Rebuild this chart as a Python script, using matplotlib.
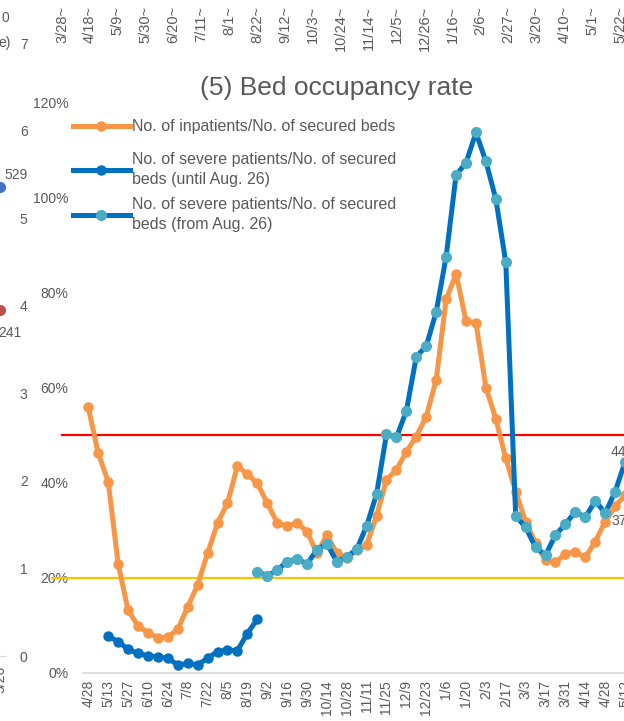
import matplotlib
matplotlib.use('Agg')
import matplotlib.pyplot as plt
import numpy as np
from matplotlib.lines import Line2D
from matplotlib.ticker import PercentFormatter

plt.rcParams['font.family'] = ['Liberation Sans', 'DejaVu Sans']

W, H = 624, 721

# weekly dates of the bed occupancy chart
weeks = ['4/28', '5/6', '5/13', '5/20', '5/27', '6/3', '6/10', '6/17', '6/24', '7/1',
         '7/8', '7/15', '7/22', '7/29', '8/5', '8/12', '8/19', '8/26', '9/2', '9/9',
         '9/16', '9/23', '9/30', '10/7', '10/14', '10/21', '10/28', '11/4', '11/11', '11/18',
         '11/25', '12/2', '12/9', '12/16', '12/23', '12/30', '1/6', '1/13', '1/20', '1/27',
         '2/3', '2/10', '2/17', '2/24', '3/3', '3/10', '3/17', '3/24', '3/31', '4/7',
         '4/14', '4/21', '4/28', '5/5', '5/12']

# (%) inpatients / secured beds
inpatient_rate = [55.8, 46.2, 40.2, 23.0, 13.2, 9.9, 8.5, 7.4, 7.5, 9.2,
                  13.9, 18.5, 25.2, 31.5, 35.7, 43.5, 41.8, 39.9, 35.7, 31.6,
                  30.9, 31.6, 29.7, 25.2, 29.0, 25.2, 24.1, 25.8, 26.9, 33.0,
                  40.6, 42.7, 46.5, 49.7, 53.9, 61.6, 78.5, 83.9, 74.0, 73.6,
                  60.0, 53.4, 45.1, 38.1, 31.8, 27.3, 23.7, 23.3, 25.0, 25.5,
                  24.3, 27.6, 31.8, 35.0, 37.4]

# (%) severe patients / secured beds, until Aug. 26
severe_until = [None, None, 7.8, 6.6, 5.0, 4.1, 3.6, 3.4, 3.1, 1.7,
                2.0, 1.7, 3.1, 4.5, 4.8, 4.7, 8.3, 11.3] + [None] * 37

# (%) severe patients / secured beds, from Aug. 26
severe_from = [None] * 17 + [21.3, 20.4, 21.6, 23.4, 24.0, 22.9, 25.9, 27.2, 23.4, 24.4,
                             26.0, 30.9, 37.6, 50.2, 49.5, 55.1, 66.5, 68.7, 75.9, 87.5,
                             104.7, 107.2, 113.6, 107.5, 99.6, 86.3, 33.0, 30.6, 26.4, 24.8,
                             29.0, 31.3, 33.9, 32.7, 36.2, 33.6, 38.1, 44.4]

thresholds = [50, 20]

# fragments of the neighbouring charts (cropped screenshot)
top_weeks = ['3/28~', '4/18~', '5/9~', '5/30~', '6/20~', '7/11~', '8/1~', '8/22~', '9/12~',
             '10/3~', '10/24~', '11/14~', '12/5~', '12/26~', '1/16~', '2/6~', '2/27~',
             '3/20~', '4/10~', '5/1~', '5/22~']
left_ticks = [0, 1, 2, 3, 4, 5, 6, 7]
left_cats = ['5/26']
left_vals = [5.35, 3.95]
left_labels = ['529', '241']

GRAY = '#595959'
ORANGE = '#F79646'
DBLUE = '#0070C0'
LBLUE = '#4BACC6'


def px_rect(x0, y0, x1, y1):
    return [x0 / W, 1 - y1 / H, (x1 - x0) / W, (y1 - y0) / H]


fig = plt.figure(figsize=(W / 100, H / 100), dpi=100)

# ---- main chart ----
step = 9.94
x0 = 88.3
ax = fig.add_axes(px_rect(x0 - 0.5 * step, 102, x0 + 55.5 * step, 673))
x = np.arange(len(weeks))
to_arr = lambda v: np.array([np.nan if a is None else a for a in v], dtype=float)

ax.plot(x, to_arr(inpatient_rate), color=ORANGE, lw=3.6, marker='o', ms=6.5,
        mfc=ORANGE, mec=ORANGE, zorder=3, solid_joinstyle='round')
ax.plot(x, to_arr(severe_until), color=DBLUE, lw=3.6, marker='o', ms=6.5,
        mfc=DBLUE, mec=DBLUE, zorder=4, solid_joinstyle='round')
ax.plot(x, to_arr(severe_from), color=DBLUE, lw=3.6, marker='o', ms=7,
        mfc=LBLUE, mec=LBLUE, zorder=5, solid_joinstyle='round')

# threshold lines (start a little left of the plot area)
ytr = ax.get_yaxis_transform()
ax.plot([(62 - 83.3) / 557, 1], [thresholds[0]] * 2, color='#FF0000', lw=1.6,
        transform=ytr, clip_on=False, zorder=2)
ax.plot([(52 - 83.3) / 557, 1], [thresholds[1]] * 2, color='#FFC000', lw=1.6,
        transform=ytr, clip_on=False, zorder=2)

# data labels on the last points
last = len(weeks) - 1
ax.annotate(f'{severe_from[last]:.0f}%', (last, severe_from[last]), xytext=(0, 10),
            textcoords='offset pixels', ha='center', va='center', fontsize=10,
            color=GRAY, annotation_clip=False)
ax.annotate(f'{inpatient_rate[last]:.0f}%', (last, inpatient_rate[last]), xytext=(0, -26),
            textcoords='offset pixels', ha='center', va='center', fontsize=10,
            color=GRAY, annotation_clip=False)

ax.set_xlim(-0.5, 55.5)
ax.set_ylim(0, 120)
ax.set_yticks(np.arange(0, 121, 20))
ax.yaxis.set_major_formatter(PercentFormatter(decimals=0))
ax.set_xticks(x[::2])
ax.set_xticklabels(weeks[::2], rotation=90)
ax.tick_params(axis='x', length=0, pad=5, labelsize=10, labelcolor=GRAY)
ax.tick_params(axis='y', length=0, pad=10.8, labelsize=10, labelcolor=GRAY)
for s in ['top', 'right', 'left']:
    ax.spines[s].set_visible(False)
ax.spines['bottom'].set_color('#D9D9D9')
ax.spines['bottom'].set_linewidth(1.2)

fig.text(337 / W, 1 - 88 / H, '(5) Bed occupancy rate', ha='center', va='center',
         fontsize=19, color=GRAY)

h1 = Line2D([], [], color=ORANGE, lw=3.6, marker='o', ms=6.5, mfc=ORANGE, mec=ORANGE)
h2 = Line2D([], [], color=DBLUE, lw=3.6, marker='o', ms=6.5, mfc=DBLUE, mec=DBLUE)
h3 = Line2D([], [], color=DBLUE, lw=3.6, marker='o', ms=7, mfc=LBLUE, mec=LBLUE)
leg_kw = dict(frameon=False, fontsize=11.5, handlelength=3.55, handletextpad=0.15,
              borderpad=0, borderaxespad=0, loc='center left', labelcolor=GRAY,
              bbox_transform=fig.transFigure)
leg1 = fig.legend([h1], ['No. of inpatients/No. of secured beds'],
                  bbox_to_anchor=(73 / W, 1 - 127 / H), **leg_kw)
leg2 = fig.legend([h2, h3], ['No. of severe patients/No. of secured\nbeds (until Aug. 26)',
                             'No. of severe patients/No. of secured\nbeds (from Aug. 26)'],
                  bbox_to_anchor=(73 / W, 1 - 192 / H), labelspacing=0.58, **leg_kw)
for t in leg2.get_texts():
    t.set_linespacing(1.45)

# ---- fragment of the chart on the left ----
axl = fig.add_axes(px_rect(-52, 43, 6, 656))
axl.set_xlim(-6.5, 0.75)
axl.set_ylim(0, 7)
axl.plot([0], [left_vals[0]], 'o', color='#4472C4', ms=7, clip_on=False)
axl.plot([0], [left_vals[1]], 'o', color='#C0504D', ms=7, clip_on=False)
axl.annotate(left_labels[0], (0, left_vals[0]), xytext=(4, 12), textcoords='offset pixels',
             ha='left', va='center', fontsize=10, color=GRAY, annotation_clip=False)
axl.annotate(left_labels[1], (0, left_vals[1]), xytext=(-2, -23), textcoords='offset pixels',
             ha='left', va='center', fontsize=10, color=GRAY, annotation_clip=False)
axl.yaxis.tick_right()
axl.set_yticks(left_ticks)
axl.set_xticks([0])
axl.set_xticklabels(left_cats, rotation=90)
axl.tick_params(axis='y', length=0, pad=10, labelsize=10, labelcolor=GRAY)
axl.tick_params(axis='x', length=0, pad=7, labelsize=10, labelcolor=GRAY)
for s in ['top', 'right', 'left']:
    axl.spines[s].set_visible(False)
axl.spines['bottom'].set_color('#D9D9D9')
axl.patch.set_visible(False)
fig.text(9 / W, 1 - 18 / H, '0', ha='right', va='center', fontsize=10, color=GRAY)
fig.text(11 / W, 1 - 43 / H, 'e)', ha='right', va='center', fontsize=10, color=GRAY)

# ---- fragment of the chart above ----
tstep = 27.9
axt = fig.add_axes(px_rect(62 - 0.5 * tstep, -40, 62 + 20.5 * tstep, -2))
axt.set_xlim(-0.5, 20.5)
axt.set_xticks(np.arange(len(top_weeks)))
axt.set_xticklabels(top_weeks, rotation=90)
axt.tick_params(axis='x', length=0, pad=5.8, labelsize=10.5, labelcolor=GRAY)
axt.set_yticks([])
for s in axt.spines.values():
    s.set_visible(False)
axt.patch.set_visible(False)

fig.savefig('out.png', dpi=100)
